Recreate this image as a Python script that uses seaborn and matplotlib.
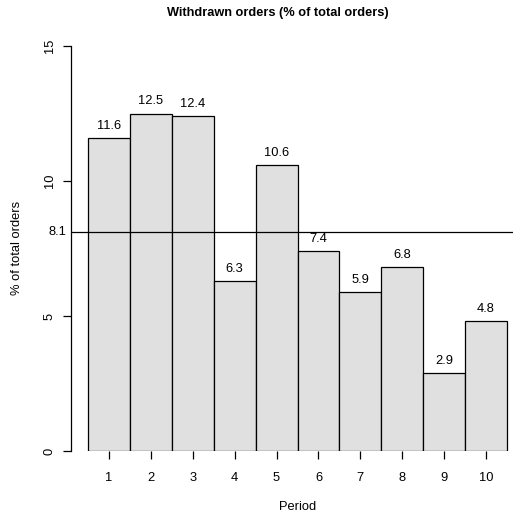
import pandas as pd
import seaborn as sns
import matplotlib.pyplot as plt

# Withdrawn orders per period
periods = ["1", "2", "3", "4", "5", "6", "7", "8", "9", "10"]
withdrawn_pct = [11.6, 12.5, 12.4, 6.3, 10.6, 7.4, 5.9, 6.8, 2.9, 4.8]
mean_pct = 8.1
y_ticks = [0, 5, 10, 15]

df = pd.DataFrame({"period": periods, "pct": withdrawn_pct})

sns.set_theme(style="white")
plt.rcParams["font.family"] = ["Liberation Sans", "DejaVu Sans"]
plt.rcParams["text.color"] = "black"
plt.rcParams["xtick.color"] = "black"
plt.rcParams["ytick.color"] = "black"

FS = 9.3

W, H = 513, 515
fig = plt.figure(figsize=(W / 100, H / 100), dpi=100)
# axes box in pixel terms: left 71, right 513, bottom 451, top 46
ax = fig.add_axes([71 / W, (H - 451) / H, (513 - 71) / W, (451 - 46) / H])

sns.barplot(data=df, x="period", y="pct", color="#E0E0E0", width=1.0,
            edgecolor="black", linewidth=0.9, saturation=1, ax=ax)

ax.set_ylim(0, 15)
ax.set_xlim(-0.906, 9.643)

ax.axhline(mean_pct, color="black", linewidth=0.9, zorder=5)

for i, v in enumerate(withdrawn_pct):
    ax.annotate(f"{v:.1f}", xy=(i, v), xytext=(0, 12), textcoords="offset pixels",
                ha="center", va="center", fontsize=FS)

for s in ["top", "right", "bottom"]:
    ax.spines[s].set_visible(False)
ax.spines["left"].set_bounds(0, 15)
ax.spines["left"].set_color("black")
ax.spines["left"].set_linewidth(0.9)

ax.set_yticks(y_ticks)
ax.set_yticklabels([str(t) for t in y_ticks], rotation=90, va="center", fontsize=FS)
ax.tick_params(axis="y", left=True, length=6, width=0.9, pad=5)
ax.tick_params(axis="x", bottom=True, length=6, width=0.9, pad=9, labelsize=FS)

ax.annotate(f"{mean_pct}", xy=(0, mean_pct), xycoords=("axes fraction", "data"),
            xytext=(-14, 0), textcoords="offset pixels", ha="center", va="center",
            fontsize=FS)

ax.set_xlabel("")
ax.set_ylabel("")
fig.text(297.5 / W, 1 - 507 / H, "Period", ha="center", va="center", fontsize=FS)
fig.text(17 / W, 1 - 248 / H, "% of total orders", ha="center", va="center",
         rotation=90, fontsize=FS)
fig.text(278 / W, 1 - 13 / H, "Withdrawn orders (% of total orders)", ha="center",
         va="center", fontsize=9.2, fontweight="bold")

fig.savefig("out.png", dpi=100)
